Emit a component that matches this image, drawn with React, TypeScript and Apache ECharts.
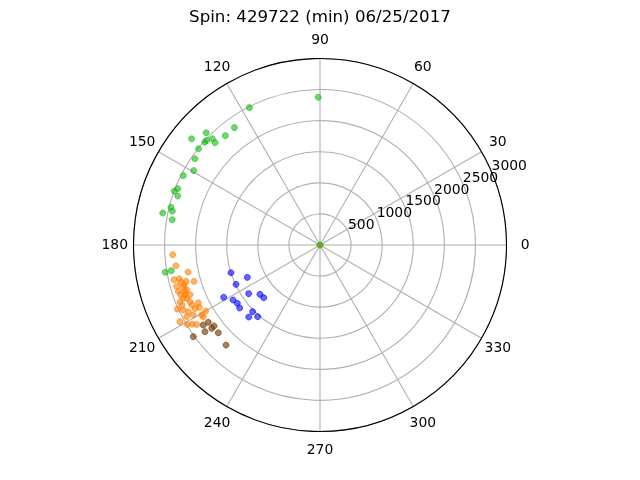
import React, { useEffect, useRef } from 'react';
import * as echarts from 'echarts';

const titleText = 'Spin: 429722 (min) 06/25/2017';
const radiusMax = 3000;
const radiusStep = 500;
const angleStep = 30;

const greenRadius = [0, 2376, 2484, 2337, 2327, 2571, 2434, 2358, 2484, 2480, 2681, 2492, 2444, 2357, 2466, 2462, 2500, 2421, 2473, 2582, 2437, 2411, 2528, 2428];
const greenAngle = [0, 90.7, 117.2, 126.1, 130.9, 135.4, 135.4, 135.7, 138.3, 137.3, 140.4, 141.6, 145.4, 149.5, 153.1, 158.4, 159.7, 161.0, 165.8, 168.5, 167.1, 170.3, 190.0, 189.8];

const orangeRadius = [0, 2374, 2341, 2167, 2414, 2328, 2315, 2233, 2109, 2399, 2302, 2262, 2398, 2379, 2315, 2239, 2359, 2310, 2281, 2430, 2167, 2254, 2185, 2516, 2435, 2375, 2212, 2329, 2435, 2568, 2487, 2418, 2359, 2124, 2204, 2278, 2421, 2275, 2294];
const orangeAngle = [0, 183.8, 188.2, 191.6, 193.4, 193.5, 195.0, 195.2, 196.1, 196.1, 197.2, 198.5, 198.1, 199.6, 200.2, 200.9, 201.2, 201.8, 203.6, 202.1, 205.4, 206.9, 207.3, 204.2, 205.4, 206.9, 210.6, 208.9, 208.3, 208.7, 210.9, 211.8, 212.8, 210.0, 211.6, 196.2, 203.5, 205.1, 198.8];

const blueRadius = [1500, 1280, 1492, 1763, 1656, 1628, 1642, 1389, 1250, 1241, 1525, 1630, 1528];
const blueAngle = [197.3, 204.0, 205.1, 208.5, 212.3, 215.2, 218.1, 214.3, 219.4, 223.1, 224.7, 225.3, 229.0];

const brownRadius = [2185, 2276, 2198, 2146, 2317, 2161, 2516, 2208];
const brownAngle = [214.7, 214.4, 217.6, 217.4, 217.0, 220.8, 215.9, 226.8];

const zip = (r: number[], a: number[]) => r.map((v, i) => [v, a[i]]);

const FONT = 'DejaVu Sans';

export default function App() {
  const ref = useRef<HTMLDivElement>(null);
  useEffect(() => {
    if (!ref.current) return;
    const chart = echarts.init(ref.current, undefined, { renderer: 'svg' });
    const center = [320, 245];
    const radius = 186.5;
    const mk = (name: string, data: number[][], color: string) => ({
      name,
      type: 'scatter',
      coordinateSystem: 'polar',
      polarIndex: 0,
      data,
      symbolSize: 6,
      silent: true,
      itemStyle: { color, borderColor: color, borderWidth: 1, opacity: 1 },
      z: 3,
    });
    const hiddenAngle = (polarIndex: number) => ({
      polarIndex,
      type: 'value',
      min: 0,
      max: 360,
      startAngle: 22.5,
      clockwise: false,
      show: false,
      axisLine: { show: false },
      axisTick: { show: false },
      axisLabel: { show: false },
      splitLine: { show: false },
    });
    const labelRadius = (polarIndex: number, keep: (v: number) => boolean) => ({
      polarIndex,
      type: 'value',
      min: 0,
      max: radiusMax,
      interval: radiusStep,
      z: 6,
      axisLine: { show: false },
      axisTick: { show: false },
      splitLine: { show: false },
      axisLabel: {
        show: true,
        margin: 2,
        align: 'left',
        verticalAlign: 'bottom',
        hideOverlap: false,
        formatter: (v: number) => (keep(v) ? String(v) : ''),
        fontSize: 13.9,
        fontFamily: FONT,
        color: '#000',
      },
    });
    chart.setOption({
      animation: false,
      title: {
        text: titleText,
        left: 'center',
        top: 3,
        textStyle: { fontFamily: FONT, fontSize: 16.67, fontWeight: 'normal', color: '#000' },
      },
      polar: [
        { center, radius },
        { center, radius },
        { center, radius },
      ],
      angleAxis: [
        {
          polarIndex: 0,
          type: 'value',
          min: 0,
          max: 360,
          interval: angleStep,
          startAngle: 0,
          clockwise: false,
          axisLine: { show: false },
          axisTick: { show: false },
          splitLine: { show: true, lineStyle: { color: '#b0b0b0', width: 1.1 } },
          axisLabel: {
            show: true,
            margin: 18.25,
            formatter: (v: number) => (v === 360 ? '' : '{a|' + v + '}'),
            rich: {
              a: { width: 1, height: 1, lineHeight: 1, padding: [0, 0, 2.5, 0], align: 'center', verticalAlign: 'middle', fontSize: 13.9, fontFamily: FONT, color: '#000' },
            },
          },
        },
        {
          polarIndex: 1,
          type: 'value',
          min: 0,
          max: 360,
          startAngle: 22.5,
          clockwise: false,
          z: 5,
          axisLine: { show: true, lineStyle: { color: '#000', width: 1.1 } },
          axisTick: { show: false },
          axisLabel: { show: false },
          splitLine: { show: false },
        },
        hiddenAngle(2),
      ],
      radiusAxis: [
        {
          polarIndex: 0,
          type: 'value',
          min: 0,
          max: radiusMax,
          interval: radiusStep,
          axisLine: { show: false },
          axisTick: { show: false },
          axisLabel: { show: false },
          splitLine: { show: true, lineStyle: { color: '#b0b0b0', width: 1.1 } },
        },
        labelRadius(1, (v) => v > 0 && v < radiusMax),
        labelRadius(2, (v) => v === radiusMax),
      ],
      series: [
        mk('orange', zip(orangeRadius, orangeAngle), 'rgba(255,127,0,0.6)'),
        mk('green', zip(greenRadius, greenAngle), 'rgba(20,185,20,0.6)'),
        mk('brown', zip(brownRadius, brownAngle), 'rgba(120,60,0,0.65)'),
        mk('blue', zip(blueRadius, blueAngle), 'rgba(0,0,255,0.6)'),
      ],
    });
    return () => chart.dispose();
  }, []);
  return <div ref={ref} style={{ position: 'fixed', left: 0, top: 0, width: 640, height: 480 }} />;
}
